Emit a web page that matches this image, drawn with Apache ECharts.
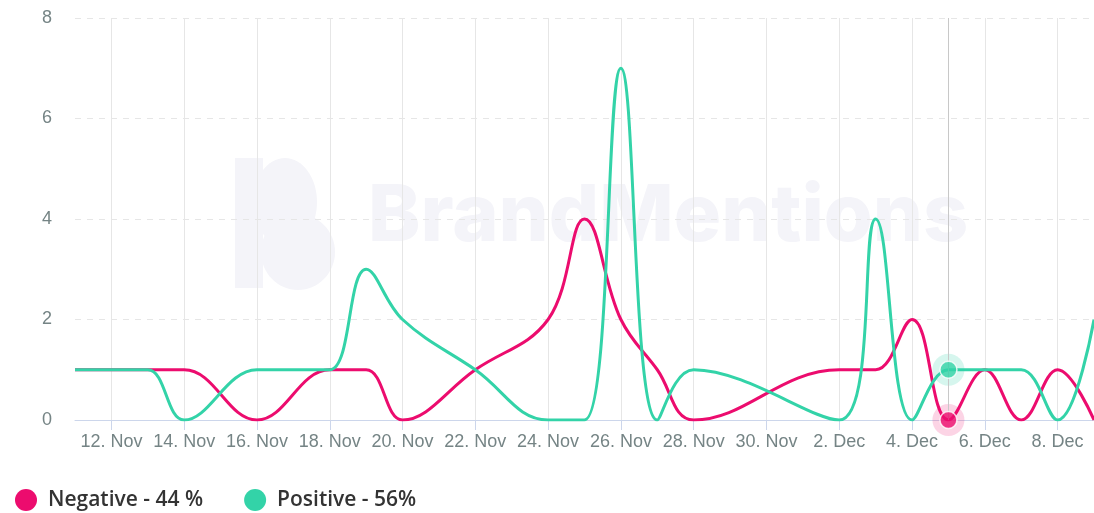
<!DOCTYPE html>
<html>
<head>
<meta charset="utf-8">
<script src="https://cdn.jsdelivr.net/npm/echarts@6/dist/echarts.min.js"></script>
<style>
  html, body { margin: 0; padding: 0; background: #fff; }
  #chart { width: 1094px; height: 513px; }
</style>
</head>
<body>
<div id="chart"></div>
<script>
// days shown on the axis, one category per day
const days = [
  '11. Nov', '12. Nov', '13. Nov', '14. Nov', '15. Nov', '16. Nov', '17. Nov', '18. Nov',
  '19. Nov', '20. Nov', '21. Nov', '22. Nov', '23. Nov', '24. Nov', '25. Nov', '26. Nov',
  '27. Nov', '28. Nov', '29. Nov', '30. Nov', '1. Dec', '2. Dec', '3. Dec', '4. Dec',
  '5. Dec', '6. Dec', '7. Dec', '8. Dec', '9. Dec'
]
// mention counts, null = no point that day
const negative = [
  1, 1, 1, 1, null, 0, null, 1,
  1, 0, null, 1, null, 2, 4, 2,
  1, 0, null, null, null, 1, 1, 2,
  0, 1, 0, 1, 0
]
const positive = [
  1, 1, 1, 0, null, 1, 1, 1,
  3, 2, null, 1, null, 0, 0, 7,
  0, 1, null, null, null, 0, 4, 0,
  1, 1, 1, 0, 2
]
const yTicks = [0, 2, 4, 6, 8]
const seriesNames = ['Negative - 44 %', 'Positive - 56%']
const hoverIndex = 24

const pink = '#ec0c6e'
const teal = '#33d3a8'
const labelColor = '#758485'
const markColor = '#f4f4f9'

const chart = echarts.init(document.getElementById('chart'))

//只在偶数日期显示刻度
const everyOther = (i) => i % 2 === 1

chart.setOption({
  animation: false,
  grid: { left: 75, right: 0, top: 18, bottom: 93, containLabel: false },
  legend: {
    data: seriesNames,
    left: 10,
    top: 484,
    icon: 'circle',
    itemWidth: 22,
    itemHeight: 22,
    itemGap: 41,
    textStyle: { fontFamily: 'Open Sans', fontWeight: 600, fontSize: 21, color: '#333', padding: [0, 0, 0, 6] }
  },
  xAxis: {
    type: 'category',
    data: days,
    boundaryGap: false,
    axisLine: { lineStyle: { color: '#ccd6eb' } },
    axisTick: { length: 10, interval: everyOther, lineStyle: { color: '#ccd6eb' } },
    axisLabel: { interval: everyOther, color: labelColor, fontSize: 18, margin: 13, fontFamily: 'Liberation Sans' },
    splitLine: { show: true, interval: everyOther, lineStyle: { color: '#e6e6e6' } }
  },
  yAxis: {
    type: 'value',
    min: yTicks[0],
    max: yTicks[yTicks.length - 1],
    interval: 2,
    axisLine: { show: false },
    axisTick: { show: false },
    axisLabel: { color: labelColor, fontSize: 18, margin: 23, fontFamily: 'Liberation Sans' },
    splitLine: { lineStyle: { color: '#e6e6e6', type: [6, 6] } }
  },
  graphic: [
    // BrandMentions watermark
    {
      type: 'group', z: -1, silent: true,
      children: [
        { type: 'rect', shape: { x: 235, y: 158, width: 28, height: 130 }, style: { fill: markColor } },
        { type: 'ellipse', shape: { cx: 285, cy: 202, rx: 32, ry: 44 }, style: { fill: markColor } },
        { type: 'ellipse', shape: { cx: 298, cy: 252, rx: 37, ry: 38 }, style: { fill: markColor } },
        {
          type: 'text', left: 368, top: 178,
          style: { text: 'BrandMentions', fill: markColor, font: '800 79px Inter' }
        }
      ]
    }
  ],
  series: [
    {
      name: seriesNames[0],
      type: 'line',
      data: negative,
      connectNulls: true,
      smooth: 0.4,
      symbol: 'none',
      lineStyle: { color: pink, width: 3 },
      itemStyle: { color: pink },
      z: 3,
      markLine: {
        silent: true,
        symbol: 'none',
        label: { show: false },
        lineStyle: { color: '#c8c8c8', width: 1, type: 'solid' },
        data: [{ xAxis: days[hoverIndex] }]
      }
    },
    {
      name: seriesNames[1],
      type: 'line',
      data: positive,
      connectNulls: true,
      smooth: 0.4,
      symbol: 'none',
      lineStyle: { color: teal, width: 3 },
      itemStyle: { color: teal },
      z: 3
    },
    // hovered points with halo
    {
      type: 'scatter',
      silent: true,
      z: 4,
      symbolSize: 32,
      data: [
        { value: [days[hoverIndex], negative[hoverIndex]], itemStyle: { color: 'rgba(236,12,110,0.22)' } },
        { value: [days[hoverIndex], positive[hoverIndex]], itemStyle: { color: 'rgba(51,211,168,0.25)' } }
      ]
    },
    {
      type: 'scatter',
      silent: true,
      z: 5,
      symbolSize: 17,
      data: [
        { value: [days[hoverIndex], negative[hoverIndex]], itemStyle: { color: pink, borderColor: '#fff', borderWidth: 1.5 } },
        { value: [days[hoverIndex], positive[hoverIndex]], itemStyle: { color: teal, borderColor: '#fff', borderWidth: 1.5 } }
      ]
    }
  ]
})
</script>
</body>
</html>
